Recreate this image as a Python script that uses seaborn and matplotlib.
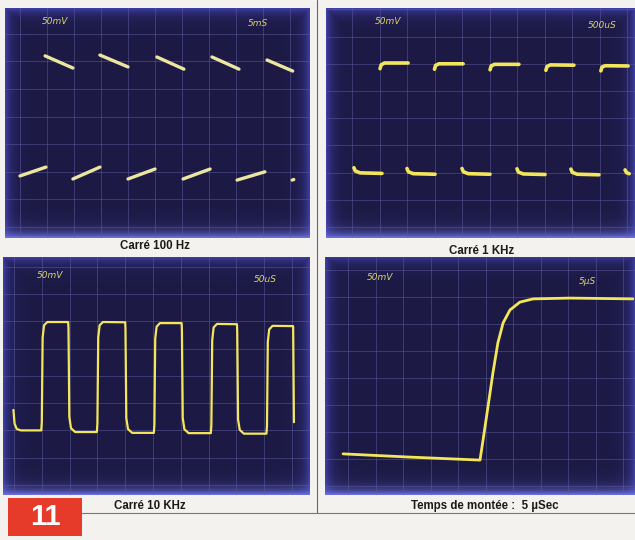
import numpy as np
import pandas as pd
import matplotlib
matplotlib.use("Agg")
import matplotlib.pyplot as plt
import seaborn as sns
from matplotlib.patches import Rectangle
from matplotlib.lines import Line2D

sns.set_style("white")
plt.rcParams['font.family'] = ['Liberation Sans', 'DejaVu Sans']

# ---------------- data (grid divisions: x 0..10, y 0..8) ----------------
# Carré 100 Hz : separate trace segments (vertical edges invisible)
sq100_seg = [1, 1, 2, 2, 3, 3, 4, 4, 5, 5, 6, 6, 7, 7, 8, 8, 9, 9, 10, 10, 11, 11]
sq100_t = [0.93, 1.96, 2.96, 4.00, 5.07, 6.07, 7.11, 8.11, 9.15, 10.10,
           0.00, 0.96, 1.96, 2.96, 4.00, 5.00, 6.04, 7.04, 8.04, 9.07, 10.08, 10.14]
sq100_v = [6.20, 5.76, 6.23, 5.80, 6.16, 5.72, 6.16, 5.72, 6.05, 5.65,
           1.85, 2.17, 1.74, 2.17, 1.74, 2.10, 1.74, 2.10, 1.70, 2.00, 1.70, 1.72]

# Carré 1 KHz
sq1k_seg = [1, 1, 1, 1, 2, 2, 2, 2, 3, 3, 3, 3, 4, 4, 4, 4, 5, 5, 5, 5,
            6, 6, 6, 6, 7, 7, 7, 7, 8, 8, 8, 8, 9, 9, 9, 9, 10, 10, 10, 10, 11, 11, 11]
sq1k_t = [1.02, 1.06, 1.18, 2.04, 3.00, 3.04, 3.16, 4.04, 5.02, 5.06, 5.18, 6.07,
          7.05, 7.09, 7.21, 8.07, 9.05, 9.09, 9.21, 10.04,
          0.07, 0.12, 0.30, 1.09, 2.00, 2.05, 2.23, 3.02, 4.00, 4.05, 4.23, 5.02,
          6.00, 6.05, 6.23, 7.02, 7.96, 8.01, 8.19, 8.98, 9.93, 9.98, 10.08]
sq1k_v = [5.82, 5.96, 6.03, 6.03, 5.80, 5.94, 6.00, 6.00, 5.78, 5.92, 5.98, 5.98,
          5.76, 5.90, 5.96, 5.95, 5.74, 5.88, 5.93, 5.92,
          2.18, 2.06, 1.99, 1.97, 2.15, 2.03, 1.96, 1.94, 2.15, 2.03, 1.96, 1.94,
          2.14, 2.02, 1.95, 1.93, 2.13, 2.01, 1.94, 1.92, 2.10, 2.00, 1.96]

# Carré 10 KHz : continuous trace
sq10k_t = [-0.02, 0.02, 0.10, 0.25, 0.98,
           1.00, 1.03, 1.08, 1.20, 1.95,
           1.96, 1.99, 2.05, 2.20, 2.98,
           3.00, 3.03, 3.08, 3.20, 4.00,
           4.01, 4.04, 4.10, 4.25, 5.03,
           5.05, 5.08, 5.13, 5.25, 6.03,
           6.04, 6.07, 6.13, 6.28, 7.08,
           7.10, 7.13, 7.18, 7.30, 8.02,
           8.03, 8.06, 8.12, 8.27, 9.08,
           9.10, 9.13, 9.18, 9.30, 10.04,
           10.05, 10.07]
sq10k_v = [2.75, 2.25, 2.05, 2.00, 2.00,
           2.30, 5.40, 5.85, 5.97, 5.97,
           5.70, 2.50, 2.08, 1.94, 1.94,
           2.25, 5.40, 5.85, 5.97, 5.96,
           5.70, 2.45, 2.05, 1.91, 1.91,
           2.20, 5.35, 5.80, 5.93, 5.93,
           5.65, 2.45, 2.04, 1.90, 1.90,
           2.20, 5.30, 5.77, 5.90, 5.89,
           5.60, 2.40, 2.02, 1.88, 1.88,
           2.15, 5.25, 5.70, 5.83, 5.82,
           4.80, 2.30]

# Temps de montée : 5 µSec
rise_t = [-0.18, 2.25, 4.80, 4.91, 5.09, 5.27, 5.45, 5.64, 5.89, 6.25, 6.73, 8.07, 10.36]
rise_v = [1.19, 1.07, 0.96, 1.70, 2.93, 4.19, 5.30, 6.04, 6.52, 6.81, 6.93, 6.96, 6.93]

captions = ["Carré 100 Hz", "Carré 1 KHz", "Carré 10 KHz", "Temps de montée :  5 µSec"]
volt_labels = ["50mV", "50mV", "50mV", "50mV"]
time_labels = ["5mS", "500uS", "50uS", "5µS"]

# ---------------- figure ----------------
W, H = 635, 540
fig = plt.figure(figsize=(W / 100, H / 100), dpi=100)
fig.patch.set_facecolor('#f3f2ee')

def fx(px):
    return px / W

def fy(py):
    return 1 - py / H

# screen pixel boxes (x0, y0, x1, y1) and grid origin / spacing in px
screens = [
    dict(box=(5, 8, 310, 238), gx0=20, gdx=27.0, gy0=227, gdy=27.6),
    dict(box=(326, 8, 635, 238), gx0=352, gdx=27.5, gy0=227, gdy=27.2),
    dict(box=(3, 257, 310, 495), gx0=14, gdx=27.8, gy0=485, gdy=27.3),
    dict(box=(325, 257, 635, 495), gx0=348, gdx=27.5, gy0=486, gdy=27.0),
]

def make_bg(w, h):
    yy, xx = np.mgrid[0:h, 0:w].astype(float)
    d_side = np.minimum(np.minimum(xx, w - 1 - xx), yy)
    edge = np.exp(-d_side / 6.0)
    bot = np.exp(-(h - 1 - yy) / 6.0)
    base = np.array([0.11, 0.10, 0.27])
    edgec = np.array([0.24, 0.24, 0.64])
    botc = np.array([0.42, 0.44, 0.88])
    img = base * (1 - edge)[..., None] + edgec * edge[..., None]
    img = img * (1 - bot)[..., None] + botc * bot[..., None]
    return np.clip(img, 0, 1)

trace_color = '#f4e65a'
axes = []
for s in screens:
    x0, y0, x1, y1 = s['box']
    ax = fig.add_axes([fx(x0), fy(y1), fx(x1 - x0), (y1 - y0) / H])
    xl = ((x0 - s['gx0']) / s['gdx'], (x1 - s['gx0']) / s['gdx'])
    yl = ((s['gy0'] - y1) / s['gdy'], (s['gy0'] - y0) / s['gdy'])
    ax.imshow(make_bg(x1 - x0, y1 - y0), extent=(xl[0], xl[1], yl[0], yl[1]),
              aspect='auto', origin='upper', zorder=0, interpolation='bilinear')
    for gx in range(0, 11):
        ax.axvline(gx, color='#5c5ca0', lw=0.6, alpha=0.6, zorder=1)
    for gy in range(0, 9):
        ax.axhline(gy, color='#5c5ca0', lw=0.6, alpha=0.6, zorder=1)
    ax.set_xlim(*xl)
    ax.set_ylim(*yl)
    ax.set_xticks([])
    ax.set_yticks([])
    for sp in ax.spines.values():
        sp.set_visible(False)
    axes.append(ax)

df100 = pd.DataFrame({'t': sq100_t, 'v': sq100_v, 'seg': sq100_seg})
df1k = pd.DataFrame({'t': sq1k_t, 'v': sq1k_v, 'seg': sq1k_seg})
df10k = pd.DataFrame({'t': sq10k_t, 'v': sq10k_v, 'seg': 1})
dfr = pd.DataFrame({'t': rise_t, 'v': rise_v, 'seg': 1})

sns.lineplot(data=df100, x='t', y='v', units='seg', estimator=None, sort=False,
             color='#ece6a0', lw=2.4, ax=axes[0], legend=False, zorder=3)
sns.lineplot(data=df1k, x='t', y='v', units='seg', estimator=None, sort=False,
             color=trace_color, lw=2.6, ax=axes[1], legend=False, zorder=3)
sns.lineplot(data=df10k, x='t', y='v', units='seg', estimator=None, sort=False,
             color=trace_color, lw=1.6, ax=axes[2], legend=False, zorder=3)
sns.lineplot(data=dfr, x='t', y='v', units='seg', estimator=None, sort=False,
             color=trace_color, lw=2.0, ax=axes[3], legend=False, zorder=3)
for ax in axes:
    ax.set_xlabel('')
    ax.set_ylabel('')

# on-screen labels
vpos = [(55, 22), (388, 22), (50, 275), (380, 277)]
tpos = [(258, 23), (602, 26), (265, 280), (587, 282)]
for (vx, vy), (tx, ty), vl, tl in zip(vpos, tpos, volt_labels, time_labels):
    fig.text(fx(vx), fy(vy), vl, color='#d9d56c', fontsize=6.5, style='italic',
             ha='center', va='center', family=['DejaVu Sans'])
    fig.text(fx(tx), fy(ty), tl, color='#d9d56c', fontsize=6.5, style='italic',
             ha='center', va='center', family=['DejaVu Sans'])

# captions
cpos = [(155, 246), (482, 251), (150, 506), (485, 506)]
for (cx, cy), c in zip(cpos, captions):
    fig.text(fx(cx), fy(cy), c, color='#1a1a1a', fontsize=8.3, fontweight='bold',
             ha='center', va='center')

# separators
fig.add_artist(Line2D([fx(317), fx(317)], [fy(0), fy(513)], color='#666666', lw=0.8))
fig.add_artist(Line2D([fx(82), fx(635)], [fy(513), fy(513)], color='#777777', lw=0.8))

# red number box
fig.add_artist(Rectangle((fx(8), fy(536)), fx(74), 38 / H, transform=fig.transFigure,
                         facecolor='#e63b2b', edgecolor='none'))
fig.text(fx(45), fy(517), "11", color='white', fontsize=21, fontweight='bold',
         ha='center', va='center')

fig.savefig('out.png', dpi=100, facecolor=fig.get_facecolor())
